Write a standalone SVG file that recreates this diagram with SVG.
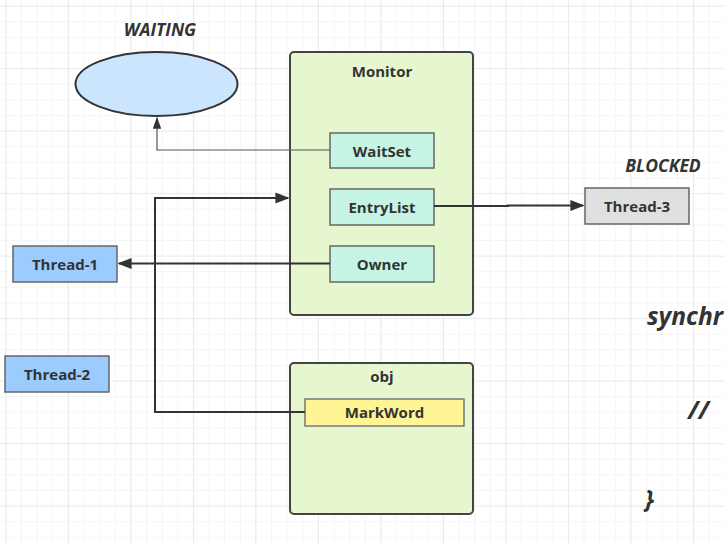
<svg xmlns="http://www.w3.org/2000/svg" width="724" height="545" viewBox="0 0 724 545">
  <defs>
    <pattern id="minor" x="5.4" y="5.6" width="15.625" height="15.625" patternUnits="userSpaceOnUse">
      <path d="M 0 0 H 15.625 M 0 0 V 15.625" fill="none" stroke="#ececec" stroke-width="1"/>
    </pattern>
    <pattern id="major" x="5.4" y="5.6" width="62.5" height="62.5" patternUnits="userSpaceOnUse">
      <path d="M 0 0 H 62.5 M 0 0 V 62.5" fill="none" stroke="#e2e2e2" stroke-width="1.2"/>
    </pattern>
    <marker id="arrow" viewBox="0 0 10 10" refX="9" refY="5" markerWidth="14" markerHeight="14" markerUnits="userSpaceOnUse" orient="auto">
      <path d="M 0 1 L 10 5 L 0 9 Z" fill="#333"/>
    </marker>
    <marker id="arrowThin" viewBox="0 0 10 10" refX="9" refY="5" markerWidth="12" markerHeight="12" markerUnits="userSpaceOnUse" orient="auto">
      <path d="M 0 1.5 L 10 5 L 0 8.5 Z" fill="#333"/>
    </marker>
    <style>
      text { font-family: "Open Sans", "Noto Sans", "DejaVu Sans", sans-serif; font-weight: bold; fill: #333; }
      .label { font-size: 15px; text-anchor: middle; dominant-baseline: central; }
      .state { font-size: 17.5px; font-style: italic; text-anchor: middle; }
      .code { font-size: 25px; font-style: italic; }
      .container { fill: #e6f7cf; stroke: #444; stroke-width: 2; }
      .slot { fill: #c6f4e4; stroke: #666; stroke-width: 1.5; }
      .thread { fill: #9ccbfd; stroke: #666; stroke-width: 1.5; }
      .blocked { fill: #e0e0e0; stroke: #666; stroke-width: 1.5; }
      .mark { fill: #fff594; stroke: #777; stroke-width: 1.5; }
      .edge { fill: none; stroke: #333; stroke-width: 2; }
      .edge-thin { fill: none; stroke: #555; stroke-width: 1.2; }
    </style>
  </defs>

  <!-- grid paper background -->
  <rect x="0" y="0" width="724" height="545" fill="#ffffff"/>
  <rect x="0" y="0" width="724" height="545" fill="url(#minor)"/>
  <rect x="0" y="0" width="724" height="545" fill="url(#major)"/>

  <!-- waiting state -->
  <g id="waiting">
    <text class="state" x="160" y="36">WAITING</text>
    <ellipse cx="156.5" cy="84" rx="81" ry="32" fill="#cce5ff" stroke="#333" stroke-width="2"/>
  </g>

  <!-- monitor with its three slots -->
  <g id="monitor">
    <rect class="container" x="290" y="52" width="183" height="263" rx="4"/>
    <text class="label" x="382" y="71">Monitor</text>
  </g>
  <g id="waitset">
    <rect class="slot" x="330" y="133" width="104" height="35"/>
    <text class="label" x="382" y="150.5">WaitSet</text>
  </g>
  <g id="entrylist">
    <rect class="slot" x="330" y="189" width="104" height="36"/>
    <text class="label" x="382" y="206.5">EntryList</text>
  </g>
  <g id="owner">
    <rect class="slot" x="330" y="246" width="104" height="36"/>
    <text class="label" x="382" y="263.5">Owner</text>
  </g>

  <!-- object header -->
  <g id="obj">
    <rect class="container" x="290" y="363" width="183" height="151" rx="4"/>
    <text class="label" x="382" y="376">obj</text>
  </g>
  <g id="markword">
    <rect class="mark" x="305" y="399" width="159" height="27"/>
    <text class="label" x="384.5" y="412">MarkWord</text>
  </g>

  <!-- threads -->
  <g id="thread-1">
    <rect class="thread" x="13" y="246" width="104" height="36"/>
    <text class="label" x="65" y="263.5">Thread-1</text>
  </g>
  <g id="thread-2">
    <rect class="thread" x="5" y="356" width="104" height="36"/>
    <text class="label" x="57" y="373.5">Thread-2</text>
  </g>
  <g id="thread-3">
    <text class="state" x="663" y="172">BLOCKED</text>
    <rect class="blocked" x="585" y="188" width="104" height="36"/>
    <text class="label" x="637" y="205.5">Thread-3</text>
  </g>

  <!-- connectors -->
  <g id="connectors">
    <path class="edge-thin" d="M 330 150 H 157 V 118" marker-end="url(#arrowThin)"/>
    <path class="edge" d="M 305 412 H 155 V 198 H 288" marker-end="url(#arrow)"/>
    <path class="edge" d="M 330 263.5 H 119" marker-end="url(#arrow)"/>
    <path class="edge" d="M 434 206 H 508 V 205.5 H 583" marker-end="url(#arrow)"/>
  </g>

  <!-- code fragment at the right edge -->
  <g id="code">
    <text class="code" x="647" y="325" textLength="76" lengthAdjust="spacingAndGlyphs">synchr</text>
    <text class="code" x="688" y="419">//</text>
    <text class="code" x="645" y="508">}</text>
  </g>
</svg>
